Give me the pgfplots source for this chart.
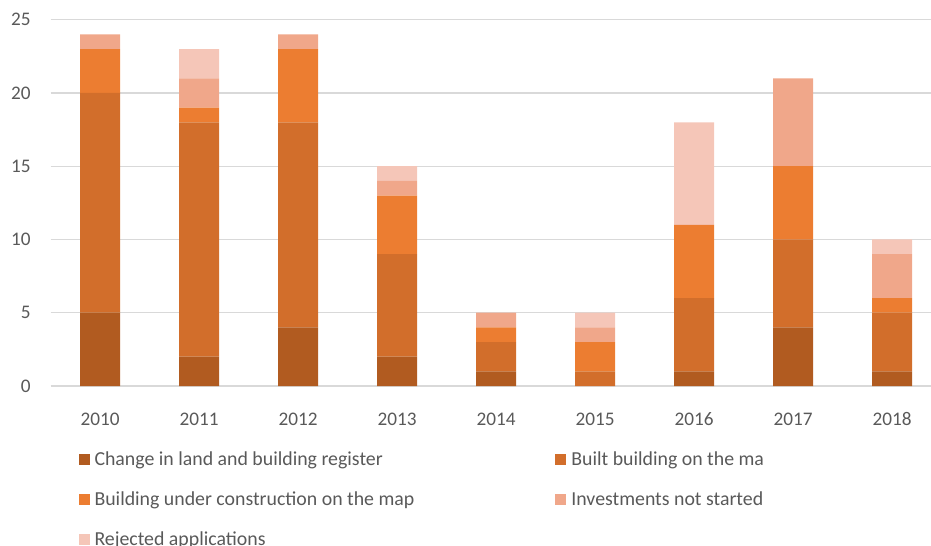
\documentclass[border=0pt]{standalone}
\usepackage{fontspec}
\setmainfont{Carlito}
\usepackage{pgfplots}
\pgfplotsset{compat=1.18}
\usepackage{pgfplotstable}
\definecolor{c1}{HTML}{B15B20}
\definecolor{c2}{HTML}{D26E2B}
\definecolor{c3}{HTML}{EC7D31}
\definecolor{c4}{HTML}{F0A78A}
\definecolor{c5}{HTML}{F5C6B8}
\definecolor{txt}{HTML}{595959}
\definecolor{gridc}{HTML}{D9D9D9}
\pgfplotstableread{
x a b c d e
0 5 15 3 1 0
1 2 16 1 2 2
2 4 14 5 1 0
3 2 7 4 1 1
4 1 2 1 1 0
5 0 1 2 1 1
6 1 5 5 0 7
7 4 6 5 6 0
8 1 4 1 3 1
}\data
\begin{document}
\begin{tikzpicture}
\begin{axis}[name=ax, scale only axis, width=891bp, height=366.3bp,
  xmin=-0.5, xmax=8.5, ymin=0, ymax=25,
  ytick={0,5,10,15,20,25}, xtick={0,1,2,3,4,5,6,7,8},
  xticklabels={2010,2011,2012,2013,2014,2015,2016,2017,2018},
  ybar stacked, bar width=40bp,
  axis line style={draw=none}, major tick length=0pt, tick style={draw=none},
  ymajorgrids, grid style={gridc, line width=1.4bp},
  /pgf/number format/assume math mode=true,
  ticklabel style={font=\fontsize{19.3}{23}\selectfont, text=txt},
  yticklabel style={anchor=east, inner sep=0pt, xshift=-20bp},
  xticklabel style={anchor=base, inner sep=0pt, yshift=-39bp},
  legend columns=2, legend cell align=left,
  legend image code/.code={\fill[#1] (0bp,-5.5bp) rectangle (11bp,5.5bp);},
  legend style={draw=none, fill=none, inner sep=0pt, at={(0.031,-0.178)}, anchor=north west,
    font=\fontsize{19.9}{24}\selectfont, text=txt, row sep=25bp, column sep=0pt,
    /tikz/every odd column/.append style={column sep=5bp},
    /tikz/every even column/.append style={column sep=141bp},
    nodes={inner sep=0pt}},
]
\addplot[fill=c1, draw=none] table[x=x, y=a] {\data};
\addplot[fill=c2, draw=none] table[x=x, y=b] {\data};
\addplot[fill=c3, draw=none] table[x=x, y=c] {\data};
\addplot[fill=c4, draw=none] table[x=x, y=d] {\data};
\addplot[fill=c5, draw=none] table[x=x, y=e] {\data};
\legend{Change in land and building register, Built building on the ma, Building under construction on the map, Investments not started, Rejected applications}
\end{axis}
\pgfresetboundingbox
\path[use as bounding box] ([shift={(-50.7bp,-160bp)}]ax.south west) rectangle ([shift={(880.3bp,386bp)}]ax.south west);
\end{tikzpicture}
\end{document}
